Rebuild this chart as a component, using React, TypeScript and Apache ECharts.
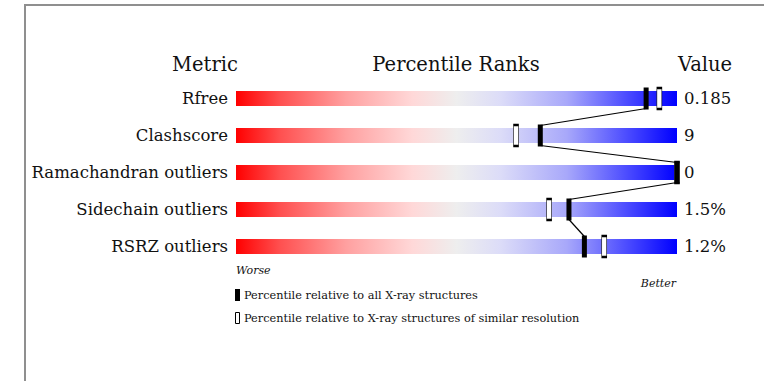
import React, { useEffect, useRef } from "react";
import * as echarts from "echarts";

// Quality metrics, top to bottom
const metrics = ["Rfree", "Clashscore", "Ramachandran outliers", "Sidechain outliers", "RSRZ outliers"];
// Raw metric values printed at the right of each slider
const valueLabels = ["0.185", "9", "0", "1.5%", "1.2%"];
// Percentile relative to all X-ray structures (filled marker)
const absolutePct = [93, 69, 100, 75.5, 79];
// Percentile relative to X-ray structures of similar resolution (open marker)
const relativePct = [96, 63.5, 100, 71, 83.5];

const SERIF = "DejaVu Serif";
const INK = "#111";

export default function App() {
  const ref = useRef<HTMLDivElement>(null);

  useEffect(() => {
    if (!ref.current) return;
    const chart = echarts.init(ref.current, null, { renderer: "svg" });

    // Worse (red) -> neutral -> better (blue) slider fill
    const gradient = new echarts.graphic.LinearGradient(0, 0, 1, 0, [
      { offset: 0, color: "#ff0000" },
      { offset: 0.1, color: "#ff5050" },
      { offset: 0.25, color: "#ffa0a0" },
      { offset: 0.4, color: "#ffd8d8" },
      { offset: 0.5, color: "#eeeeee" },
      { offset: 0.6, color: "#dcdcf8" },
      { offset: 0.75, color: "#a8a8fa" },
      { offset: 0.88, color: "#5050ff" },
      { offset: 1, color: "#0000ff" },
    ]);

    const connectorData = absolutePct.slice(0, -1).map((p, i) => [p, i, absolutePct[i + 1], i + 1]);

    chart.setOption({
      animation: false,
      backgroundColor: "#ffffff",
      grid: { left: 236, right: 87, top: 80, bottom: 116 },
      xAxis: { type: "value", min: 0, max: 100, show: false },
      yAxis: [
        {
          type: "category",
          data: metrics,
          inverse: true,
          axisLine: { show: false },
          axisTick: { show: false },
          splitLine: { show: false },
          axisLabel: { fontFamily: SERIF, fontSize: 16.5, color: INK, margin: 8, padding: [3, 0, 0, 0] },
        },
        {
          type: "category",
          data: valueLabels,
          inverse: true,
          position: "right",
          axisLine: { show: false },
          axisTick: { show: false },
          splitLine: { show: false },
          axisLabel: { fontFamily: SERIF, fontSize: 16.5, color: INK, margin: 7, padding: [3, 0, 0, 0] },
        },
      ],
      series: [
        {
          type: "bar",
          silent: true,
          barWidth: 15,
          data: metrics.map(() => 100),
          itemStyle: { color: gradient },
          z: 1,
        },
        {
          type: "custom",
          silent: true,
          z: 2,
          data: connectorData,
          renderItem: (params: any, api: any) => {
            const a = api.coord([api.value(0), api.value(1)]);
            const b = api.coord([api.value(2), api.value(3)]);
            return {
              type: "line",
              shape: { x1: a[0], y1: a[1] + 10, x2: b[0], y2: b[1] - 10 },
              style: { stroke: "#000", lineWidth: 1.2 },
            };
          },
        },
        {
          type: "scatter",
          silent: true,
          z: 3,
          symbol: "rect",
          symbolSize: [5, 21],
          data: relativePct.map((p, i) => [p, i]),
          itemStyle: { color: "#ffffff", borderColor: "#000", borderWidth: 1.2, opacity: 1 },
        },
        {
          type: "scatter",
          silent: true,
          z: 4,
          symbol: "rect",
          symbolSize: [5, 22],
          data: absolutePct.map((p, i) => [p, i]),
          itemStyle: { color: "#000", opacity: 1 },
        },
      ],
      graphic: [
        {
          type: "rect",
          shape: { x: 25, y: 5, width: 800, height: 420 },
          style: { fill: "none", stroke: "#8f8f8f", lineWidth: 2 },
          silent: true,
        },
        {
          type: "text",
          x: 205,
          y: 64,
          style: { text: "Metric", font: `19.5px "${SERIF}"`, fill: INK, align: "center", verticalAlign: "middle" },
        },
        {
          type: "text",
          x: 456,
          y: 64,
          style: { text: "Percentile Ranks", font: `19.5px "${SERIF}"`, fill: INK, align: "center", verticalAlign: "middle" },
        },
        {
          type: "text",
          x: 705,
          y: 64,
          style: { text: "Value", font: `19.5px "${SERIF}"`, fill: INK, align: "center", verticalAlign: "middle" },
        },
        {
          type: "text",
          x: 236,
          y: 270,
          style: { text: "Worse", font: `italic 11px "${SERIF}"`, fill: INK, align: "left", verticalAlign: "middle" },
        },
        {
          type: "text",
          x: 676,
          y: 283,
          style: { text: "Better", font: `italic 11px "${SERIF}"`, fill: INK, align: "right", verticalAlign: "middle" },
        },
        {
          type: "rect",
          shape: { x: 235, y: 289, width: 5, height: 12 },
          style: { fill: "#000" },
        },
        {
          type: "text",
          x: 244,
          y: 295,
          style: { text: "Percentile relative to all X-ray structures", font: `11.3px "${SERIF}"`, fill: INK, align: "left", verticalAlign: "middle" },
        },
        {
          type: "rect",
          shape: { x: 235.5, y: 312.5, width: 4, height: 11 },
          style: { fill: "#fff", stroke: "#000", lineWidth: 1 },
        },
        {
          type: "text",
          x: 244,
          y: 318,
          style: { text: "Percentile relative to X-ray structures of similar resolution", font: `11.3px "${SERIF}"`, fill: INK, align: "left", verticalAlign: "middle" },
        },
      ],
    });

    return () => chart.dispose();
  }, []);

  return <div ref={ref} style={{ position: "fixed", left: 0, top: 0, width: 764, height: 381 }} />;
}
